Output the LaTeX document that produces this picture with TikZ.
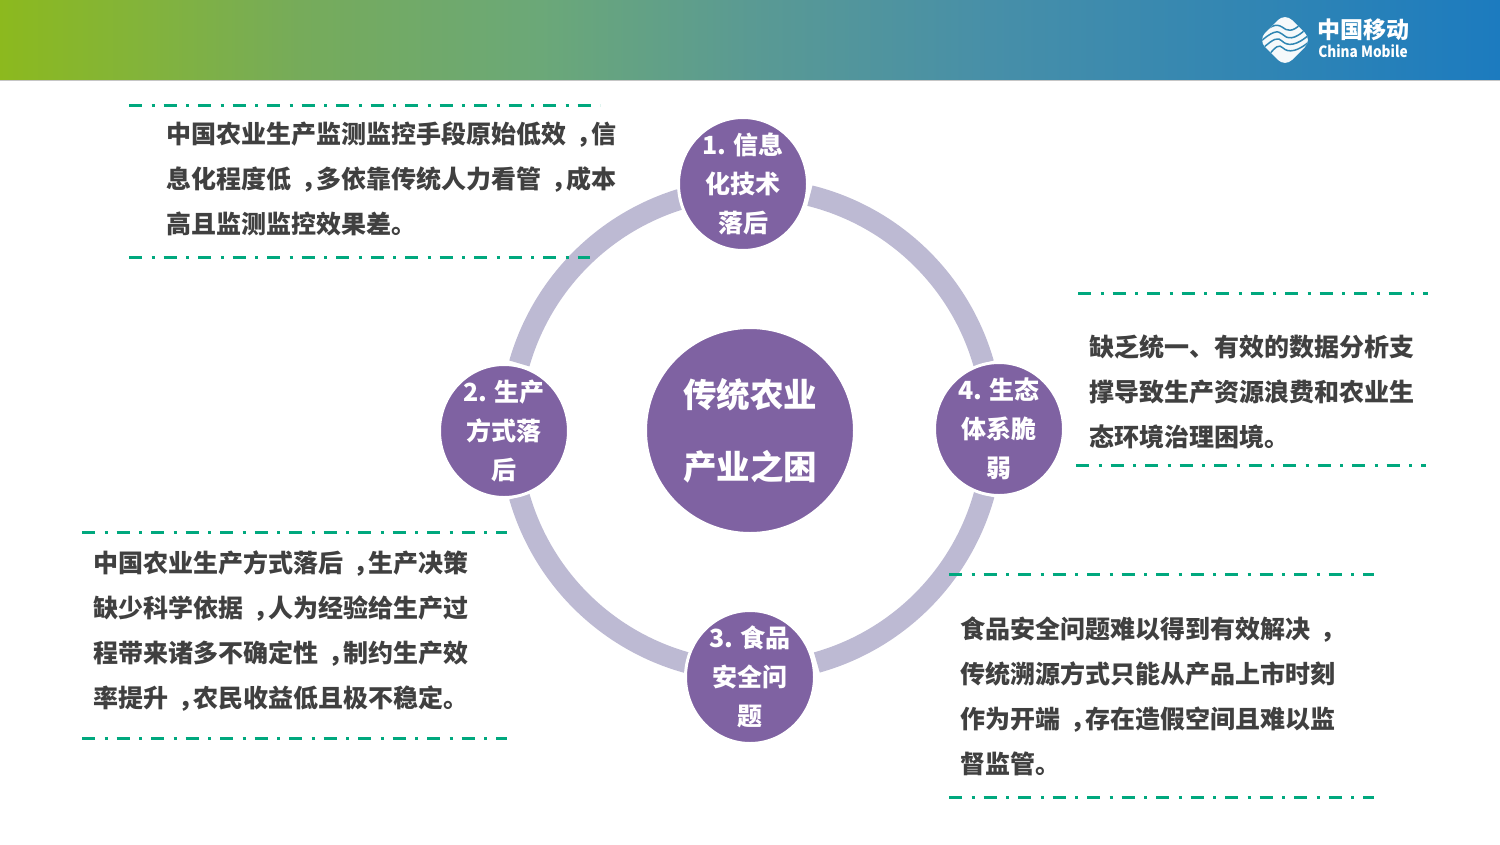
\documentclass[tikz,border=0pt]{standalone}
\usepackage{fontspec}
\setmainfont{Noto Sans CJK SC}
\usetikzlibrary{positioning,shapes.geometric}
\definecolor{ringcol}{HTML}{BDBAD3}
\definecolor{discol}{HTML}{7F62A2}
\definecolor{rulecol}{HTML}{00A87E}
\definecolor{textcol}{HTML}{404040}
\definecolor{logoline}{HTML}{2F86B3}
\definecolor{bana}{HTML}{8CB91E}
\definecolor{banb}{HTML}{82B33C}
\definecolor{banc}{HTML}{76AB5A}
\definecolor{band}{HTML}{6BA878}
\definecolor{bane}{HTML}{5A9A93}
\definecolor{banf}{HTML}{478FA8}
\definecolor{bang}{HTML}{2E84B5}
\definecolor{banh}{HTML}{1C7BBF}
\pgfdeclarehorizontalshading{bannershade}{100bp}{
  color(0bp)=(bana); color(25bp)=(bana); color(30bp)=(banb); color(35bp)=(banc);
  color(43bp)=(band); color(50bp)=(bane); color(58bp)=(banf); color(68bp)=(bang); color(75bp)=(banh); color(100bp)=(banh)}
\tikzset{
  ringarc/.style={draw=ringcol,line width=21pt},
  disc/.style={ellipse,fill=discol,draw=white,line width=3pt,minimum width=129pt,minimum height=133pt,inner sep=0pt},
  hubdisc/.style={disc,minimum width=209pt,minimum height=206pt},
  disctext/.style={inner sep=0pt,text=white,align=center,font=\fontsize{25}{39}\selectfont\bfseries},
  hubtext/.style={disctext,font=\fontsize{33.5}{72}\selectfont\bfseries},
  note/.style={anchor=north west,inner sep=0pt,text=textcol,align=left,font=\fontsize{25}{45}\selectfont\bfseries},
  dashrule/.style={draw=rulecol,line width=3pt,dash pattern=on 13pt off 9.5pt on 3pt off 9pt},
  logostroke/.style={draw=logoline,line width=1.5pt},
}
\newcommand{\zcomma}{\hspace*{0.4em}，\hspace*{-0.4em}}
\begin{document}
\begin{tikzpicture}[x=1pt,y=-1pt]
\useasboundingbox (0,0) rectangle (1500,844);
% banner
\shade[shading=bannershade] (0,0) rectangle (1500,80);
\draw[gray!45,line width=1pt] (0,80.5)--(1500,80.5);
% logo
\begin{scope}
\clip[rounded corners=10pt] (1258,40)--(1285,13)--(1312,40)--(1285,67)--cycle;
\fill[white!95!logoline] (1255,10) rectangle (1315,70);
\draw[logostroke] (1259,43) .. controls (1272,31) and (1278,30) .. (1282,34) .. controls (1287,39) and (1294,41) .. (1307,28);
\draw[logostroke] (1262,49) .. controls (1274,38) and (1278,37) .. (1282,41) .. controls (1287,46) and (1296,47) .. (1311,33);
\draw[logostroke] (1259,36) .. controls (1270,26) and (1276,23) .. (1282,27) .. controls (1287,31) and (1292,33) .. (1302,23);
\draw[logostroke] (1268,56) .. controls (1276,46) and (1279,44) .. (1283,48) .. controls (1288,53) and (1298,52) .. (1311,40);
\end{scope}
\node[inner sep=0pt,text=white] (logocn) at (1363,30) {\fontsize{23}{23}\selectfont\bfseries 中国移动};
\node[inner sep=0pt,text=white] (logoen) at (1363,51) {\scalebox{0.88}[1]{\fontsize{15.5}{15.5}\selectfont\bfseries China Mobile}};
% ring
\coordinate (hub) at (751.5,430);
\foreach \from/\to in {76/16,107/164,196/254.7,-15.5/-74.3}
  \draw[ringarc] (hub) ++(\from:241.5pt) arc[start angle=\from,end angle=\to,radius=241.5pt];
% discs
\node[hubdisc] (hubdisc) at (750,430.5) {};
\node[hubtext] (hubtxt) at (hubdisc) {传统农业\\产业之困};
\node[disc] (info) at (743,184) {};
\node[disctext] (infotxt) at (info) {1. 信息\\化技术\\落后};
\node[disc] (prod) at (504,431) {};
\node[disctext] (prodtxt) at (prod) {2. 生产\\方式落\\后};
\node[disc] (food) at (750,677) {};
\node[disctext] (foodtxt) at (food) {3. 食品\\安全问\\题};
\node[disc] (eco) at (999,429) {};
\node[disctext] (ecotxt) at (eco) {4. 生态\\体系脆\\弱};
% notes
\node[note] (infonote) at (166.5,121.7) {中国农业生产监测监控手段原始低效\zcomma 信\\息化程度低\zcomma 多依靠传统人力看管\zcomma 成本\\高且监测监控效果差。};
\node[note] (econote) at (1089,334.7) {缺乏统一、有效的数据分析支\\撑导致生产资源浪费和农业生\\态环境治理困境。};
\node[note] (prodnote) at (93,550) {中国农业生产方式落后\zcomma 生产决策\\缺少科学依据\zcomma 人为经验给生产过\\程带来诸多不确定性\zcomma 制约生产效\\率提升\zcomma 农民收益低且极不稳定。};
\node[note] (foodnote) at (960,616.7) {食品安全问题难以得到有效解决\zcomma\\传统溯源方式只能从产品上市时刻\\作为开端\zcomma 存在造假空间且难以监\\督监管。};
% rules
\draw[dashrule] (129,105)--(600,105);
\draw[dashrule] (129,257)--(590,257);
\draw[dashrule] (1078,293)--(1428,293);
\draw[dashrule] (1076,465)--(1426,465);
\draw[dashrule] (82,532)--(507,532);
\draw[dashrule] (82,738)--(507,738);
\draw[dashrule] (949,574)--(1374,574);
\draw[dashrule] (949,797)--(1374,797);
\end{tikzpicture}
\end{document}
